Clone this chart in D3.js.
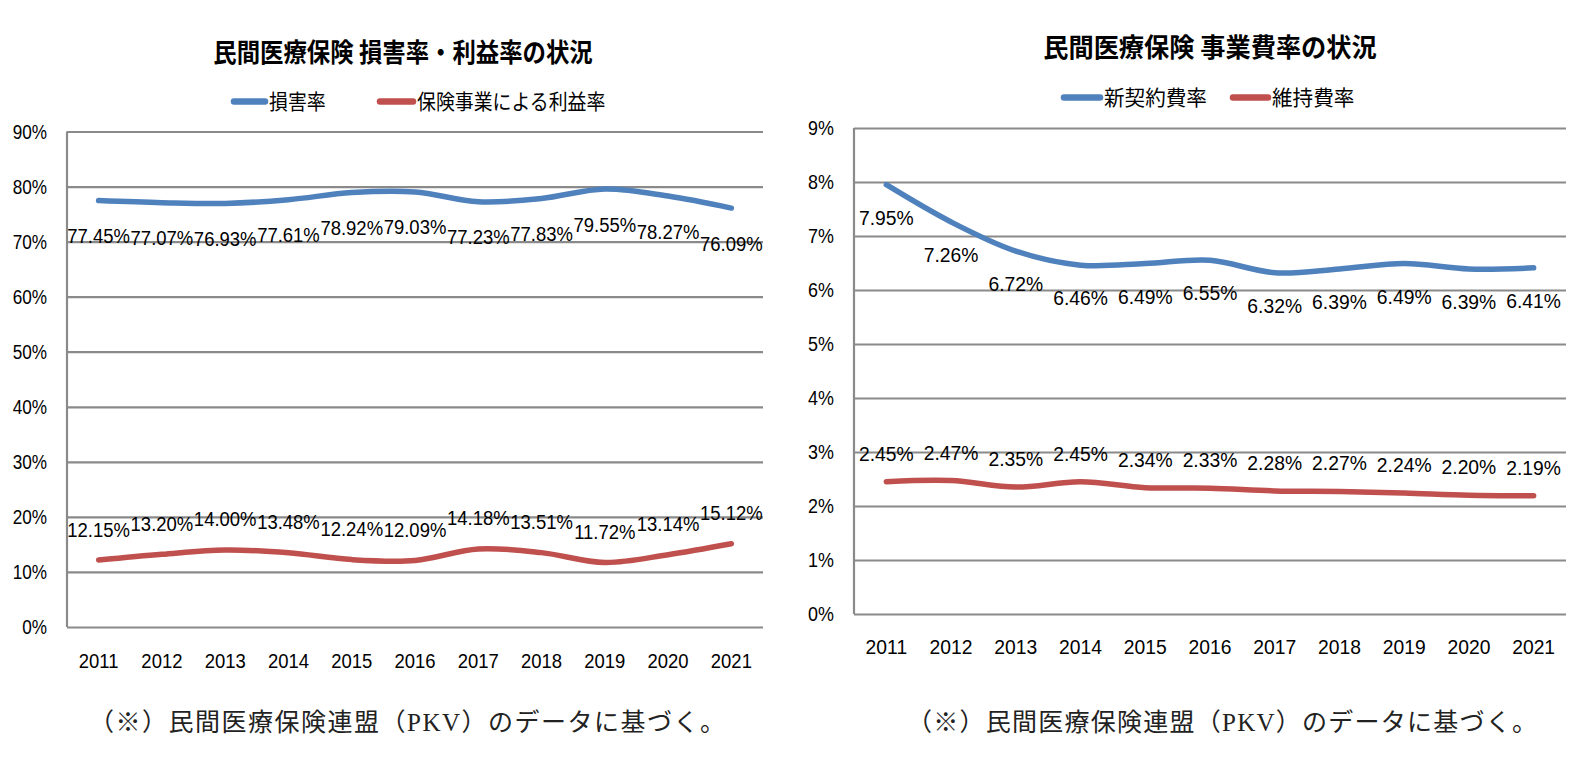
<!DOCTYPE html>
<html>
<head>
<meta charset="utf-8">
<script src="https://cdn.jsdelivr.net/npm/d3@7"></script>
<style>
  body { margin: 0; background: #fff; }
  svg { display: block; }
</style>
</head>
<body>
<svg id="chart" width="1589" height="761"></svg>
<script>
// ---- data (percent) ----
var years = ["2011","2012","2013","2014","2015","2016","2017","2018","2019","2020","2021"];

var lossRatio   = [77.45, 77.07, 76.93, 77.61, 78.92, 79.03, 77.23, 77.83, 79.55, 78.27, 76.09];
var profitRatio = [12.15, 13.20, 14.00, 13.48, 12.24, 12.09, 14.18, 13.51, 11.72, 13.14, 15.12];

var acquisitionRatio = [7.95, 7.26, 6.72, 6.46, 6.49, 6.55, 6.32, 6.39, 6.49, 6.39, 6.41];
var maintenanceRatio = [2.45, 2.47, 2.35, 2.45, 2.34, 2.33, 2.28, 2.27, 2.24, 2.20, 2.19];

var leftTicks  = [0, 10, 20, 30, 40, 50, 60, 70, 80, 90];
var rightTicks = [0, 1, 2, 3, 4, 5, 6, 7, 8, 9];

var leftTitle  = "民間医療保険 損害率・利益率の状況";
var rightTitle = "民間医療保険 事業費率の状況";
var leftNames  = ["損害率", "保険事業による利益率"];
var rightNames = ["新契約費率", "維持費率"];
var footnote   = "（※）民間医療保険連盟（PKV）のデータに基づく。";

var blue = "#4f81bd", red = "#c0504d", grid = "#8a8a8a";
var jpFont = "'Noto Sans CJK JP', sans-serif";
var numFont = "'Liberation Sans', Arial, sans-serif";
var serifFont = "'Liberation Serif', 'Noto Sans CJK JP', serif";

var svg = d3.select("#chart");

// text squeezed horizontally, like the narrow fonts in the original
function narrowText(parent, x, y, str, size, anchor, sx, family, weight) {
  var g = parent.append("g")
    .attr("transform", "translate(" + x + "," + y + ") scale(" + sx + ",1)");
  return g.append("text")
    .attr("text-anchor", anchor)
    .style("font-family", family)
    .style("font-size", size + "px")
    .style("font-weight", weight || "normal")
    .text(str);
}

function drawPanel(cfg) {
  var g = svg.append("g");

  var x = d3.scalePoint()
    .domain(years)
    .range([cfg.left, cfg.right])
    .padding(0.5);

  var y = d3.scaleLinear()
    .domain([0, d3.max(cfg.ticks)])
    .range([cfg.bottom, cfg.top]);

  // title
  narrowText(g, cfg.titleX, cfg.titleY, cfg.title, 26, "middle", cfg.titleSx, jpFont, "bold");

  // legend
  cfg.legend.forEach(function(l, i) {
    g.append("line")
      .attr("x1", l.x1).attr("x2", l.x2)
      .attr("y1", cfg.legendY).attr("y2", cfg.legendY)
      .attr("stroke", cfg.colors[i])
      .attr("stroke-width", 6.5)
      .attr("stroke-linecap", "round");
    narrowText(g, l.x2 + 4, cfg.legendY + 7.5, cfg.names[i], 21, "start", cfg.jpSx, jpFont);
  });

  // gridlines
  g.append("g")
    .attr("transform", "translate(" + cfg.left + ",0)")
    .call(d3.axisLeft(y).tickValues(cfg.ticks).tickSize(-(cfg.right - cfg.left)).tickFormat(""))
    .call(function(a) {
      a.select(".domain").remove();
      a.selectAll("line").attr("stroke", grid).attr("stroke-width", 2.2);
    });

  // vertical axis line
  g.append("line")
    .attr("x1", cfg.left).attr("x2", cfg.left)
    .attr("y1", y(d3.max(cfg.ticks))).attr("y2", cfg.bottom)
    .attr("stroke", grid).attr("stroke-width", 2.2);

  // y tick labels
  cfg.ticks.forEach(function(t) {
    narrowText(g, cfg.left - 20, y(t) + 7, t + "%", 19.5, "end", cfg.numSx, numFont);
  });

  // x labels
  years.forEach(function(yr) {
    narrowText(g, x(yr), cfg.xLabelY, yr, 21, "middle", cfg.numSx, numFont);
  });

  var line = d3.line()
    .x(function(d, i) { return x(years[i]); })
    .y(function(d) { return y(d); })
    .curve(d3.curveCatmullRom.alpha(0.5));

  cfg.series.forEach(function(s, i) {
    g.append("path")
      .datum(s)
      .attr("fill", "none")
      .attr("stroke", cfg.colors[i])
      .attr("stroke-width", 5.5)
      .attr("stroke-linejoin", "round")
      .attr("stroke-linecap", "round")
      .attr("d", line);

    // data labels: first series below, second above
    s.forEach(function(d, j) {
      narrowText(g, x(years[j]), y(d) + cfg.labelOffset[i], d.toFixed(2) + "%", 21, "middle", cfg.numSx, numFont);
    });
  });

  // footnote
  g.append("text")
    .attr("x", cfg.noteX).attr("y", 731)
    .attr("textLength", cfg.noteW)
    .attr("lengthAdjust", "spacing")
    .style("font-family", serifFont)
    .style("font-size", "25px")
    .style("fill", "#222")
    .text(footnote);
}

drawPanel({
  left: 67, right: 763, top: 131.5, bottom: 627,
  ticks: leftTicks,
  title: leftTitle, titleX: 403, titleY: 62, titleSx: 0.9,
  names: leftNames, legendY: 101.5,
  legend: [{x1: 234, x2: 265}, {x1: 380, x2: 413}],
  colors: [blue, red],
  series: [lossRatio, profitRatio],
  labelOffset: [42.5, -23.5],
  xLabelY: 668,
  numSx: 0.88, jpSx: 0.9,
  noteX: 89, noteW: 636
});

drawPanel({
  left: 854, right: 1566, top: 128, bottom: 614,
  ticks: rightTicks,
  title: rightTitle, titleX: 1210, titleY: 57, titleSx: 0.97,
  names: rightNames, legendY: 97.5,
  legend: [{x1: 1064, x2: 1100}, {x1: 1233, x2: 1268}],
  colors: [blue, red],
  series: [acquisitionRatio, maintenanceRatio],
  labelOffset: [40, -21],
  xLabelY: 654,
  numSx: 0.92, jpSx: 0.98,
  noteX: 907, noteW: 630
});
</script>
</body>
</html>
